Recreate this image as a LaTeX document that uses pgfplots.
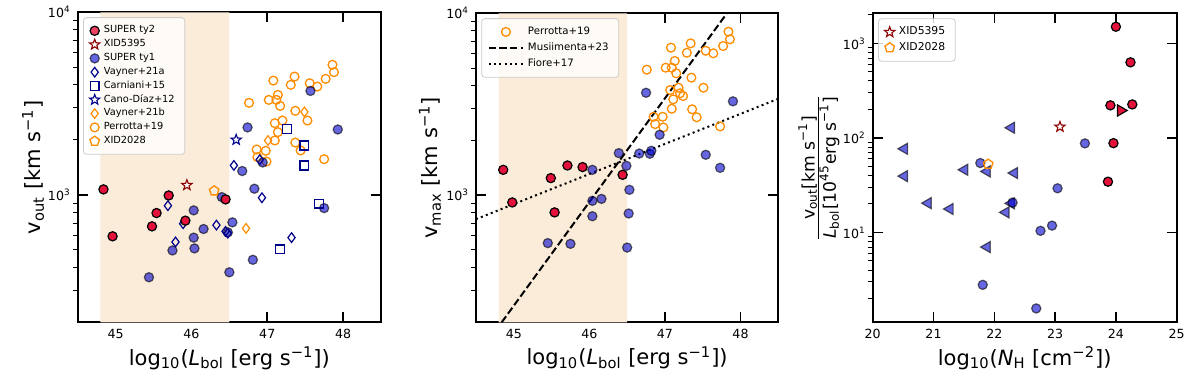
\documentclass[border=0pt]{standalone}
\usepackage{fontspec}
\setmainfont{DejaVu Sans}
\usepackage{pgfplots}
\pgfplotsset{compat=1.18}
\usetikzlibrary{plotmarks}

\definecolor{tytwo}{RGB}{228,18,58}
\definecolor{mblue}{RGB}{0,0,205}
\definecolor{navy}{RGB}{0,0,139}
\definecolor{dorange}{RGB}{255,140,0}
\definecolor{dred}{RGB}{139,0,0}
\definecolor{shade}{RGB}{250,236,217}

% open five-pointed star, like matplotlib's '*'
\pgfdeclareplotmark{ostar}{%
  \pgfpathmoveto{\pgfpointpolar{90}{\pgfplotmarksize}}%
  \pgfpathlineto{\pgfpointpolar{126}{0.42\pgfplotmarksize}}%
  \pgfpathlineto{\pgfpointpolar{162}{\pgfplotmarksize}}%
  \pgfpathlineto{\pgfpointpolar{198}{0.42\pgfplotmarksize}}%
  \pgfpathlineto{\pgfpointpolar{234}{\pgfplotmarksize}}%
  \pgfpathlineto{\pgfpointpolar{270}{0.42\pgfplotmarksize}}%
  \pgfpathlineto{\pgfpointpolar{306}{\pgfplotmarksize}}%
  \pgfpathlineto{\pgfpointpolar{342}{0.42\pgfplotmarksize}}%
  \pgfpathlineto{\pgfpointpolar{18}{\pgfplotmarksize}}%
  \pgfpathlineto{\pgfpointpolar{54}{0.42\pgfplotmarksize}}%
  \pgfpathclose
  \pgfusepathqfillstroke
}

\pgfplotsset{
  panel/.style={
    scale only axis, anchor=south west,
    tick align=inside, tick pos=both,
    major tick length=5pt,
    major tick style={black, line width=0.8pt},
    axis line style={line width=1pt},
    tick label style={font=\fontsize{6.3}{7}\selectfont},
    label style={font=\fontsize{10.5}{12}\selectfont},
    /pgf/number format/assume math mode=true,
    xlabel style={at={(axis description cs:0.5,-0.115)}, anchor=center},
    legend cell align=left,
    legend style={at={(rel axis cs:0.018,0.984)}, anchor=north west,
      font=\fontsize{4.9}{5.9}\selectfont, draw=black!20, rounded corners=1.5pt,
      fill=white, fill opacity=0.8, text opacity=1,
      row sep={6.9pt,between origins}},
  },
  ty2/.style={only marks, mark=*, mark size=2.3pt,
    mark options={fill=tytwo, draw=black, line width=0.6pt}},
  ty1/.style={only marks, mark=*, mark size=2.3pt,
    mark options={fill=mblue, draw=black, line width=0.6pt, opacity=0.6}},
  perr/.style={only marks, mark=o, mark size=2.2pt,
    mark options={draw=dorange, line width=0.65pt}},
  vayA/.style={only marks, mark=diamond, mark size=2.4pt,
    mark options={draw=navy, line width=0.6pt}},
  vayB/.style={only marks, mark=diamond, mark size=2.4pt,
    mark options={draw=dorange, line width=0.6pt}},
  carn/.style={only marks, mark=square, mark size=2.2pt,
    mark options={draw=navy, line width=0.65pt}},
  cano/.style={only marks, mark=ostar, mark size=2.7pt,
    mark options={draw=navy, fill=white, line width=0.55pt}},
  x5395/.style={only marks, mark=ostar, mark size=2.7pt,
    mark options={draw=dred, fill=white, line width=0.55pt}},
  x2028/.style={only marks, mark=pentagon, mark size=2.5pt,
    mark options={draw=dorange, line width=0.65pt}},
}

\begin{document}
\begin{tikzpicture}
\path[use as bounding box] (0,0) rectangle (600pt,190pt);

% ---------------- panel 1: v_out vs L_bol
\begin{axis}[panel, at={(38.85pt,28.85pt)}, width=151.65pt, height=155pt,
  xmin=44.5, xmax=48.5, ymin=200, ymax=10000, ymode=log,
  xtick={45,46,47,48}, ytick={1000,10000},
  yticklabels={10\textsuperscript{3},10\textsuperscript{4}},
  yminorticks=false,
  extra y ticks={300,400,500,600,700,800,900,2000,3000,4000,5000,6000,7000,8000,9000},
  extra y tick labels={},
  extra y tick style={tick align=outside, ytick pos=left, major tick length=2.5pt,
    major tick style={line width=0.5pt}},
  xlabel={log\textsubscript{10}(\textit{L}\textsubscript{bol} [erg s\textsuperscript{−1}])},
  ylabel={v\textsubscript{out} [km s\textsuperscript{−1}]},
  ylabel style={at={(axis description cs:-0.147,0.5)}, anchor=center},
]
\addlegendimage{ty2}\addlegendentry{SUPER ty2}
\addlegendimage{x5395}\addlegendentry{XID5395}
\addlegendimage{ty1}\addlegendentry{SUPER ty1}
\addlegendimage{vayA}\addlegendentry{Vayner+21a}
\addlegendimage{carn}\addlegendentry{Carniani+15}
\addlegendimage{cano}\addlegendentry{Cano-Díaz+12}
\addlegendimage{vayB}\addlegendentry{Vayner+21b}
\addlegendimage{perr}\addlegendentry{Perrotta+19}
\addlegendimage{x2028}\addlegendentry{XID2028}

\addplot[fill=shade, draw=none, forget plot] coordinates {
  (44.8,200) (46.5,200) (46.5,10000) (44.8,10000) (44.8,200)};
\addplot[perr, forget plot] coordinates {
  (46.76,3190) (46.86,1771) (46.87,1607) (46.98,1741) (46.99,1521) (47.02,3311)
  (47.08,4223) (47.10,2467) (47.10,1983) (47.12,3311) (47.14,3527) (47.17,3068)
  (47.14,2203) (47.20,2552) (47.31,4001) (47.36,4443) (47.37,2884) (47.37,1932)
  (47.44,1750) (47.53,2552) (47.56,4083) (47.66,3918) (47.75,1567) (47.77,4318)
  (47.86,5156) (47.88,4697)};
\addplot[vayB, forget plot] coordinates {(46.72,654) (47.01,1983) (47.49,2845)};
\addplot[ty1, forget plot] coordinates {
  (45.44,353) (45.75,495) (46.03,821) (46.03,582) (46.04,508) (46.16,649)
  (46.40,971) (46.48,622) (46.50,376) (46.54,706) (46.67,1349) (46.74,2339)
  (46.81,440) (46.83,1079) (46.94,1503) (47.57,3707) (47.75,845) (47.93,2279)};
\addplot[vayA, forget plot] coordinates {
  (45.69,871) (45.79,551) (45.89,694) (46.33,682) (46.45,630) (46.48,616)
  (46.56,1448) (46.90,1555) (46.93,963) (47.32,582)};
\addplot[carn, forget plot] coordinates {
  (47.26,2287) (47.49,1862) (47.49,1447) (47.68,893) (47.17,502)};
\addplot[cano, forget plot] coordinates {(46.59,2000)};
\addplot[ty2, forget plot] coordinates {
  (44.84,1070) (44.96,592) (45.48,671) (45.54,794) (45.70,991) (45.92,721) (46.45,943)};
\addplot[x5395, forget plot] coordinates {(45.94,1129)};
\addplot[x2028, forget plot] coordinates {(46.30,1051)};
\end{axis}

% ---------------- panel 2: v_max vs L_bol
\begin{axis}[panel, at={(238pt,28.85pt)}, width=151.15pt, height=154.5pt,
  xmin=44.5, xmax=48.5, ymin=200, ymax=10000, ymode=log,
  xtick={45,46,47,48}, ytick={1000,10000},
  yticklabels={10\textsuperscript{3},10\textsuperscript{4}},
  yminorticks=false,
  extra y ticks={300,400,500,600,700,800,900,2000,3000,4000,5000,6000,7000,8000,9000},
  extra y tick labels={},
  extra y tick style={tick align=outside, ytick pos=left, major tick length=2.5pt,
    major tick style={line width=0.5pt}},
  xlabel={log\textsubscript{10}(\textit{L}\textsubscript{bol} [erg s\textsuperscript{−1}])},
  ylabel={v\textsubscript{max} [km s\textsuperscript{−1}]},
  ylabel style={at={(axis description cs:-0.152,0.5)}, anchor=center},
  legend style={font=\fontsize{5.1}{6.1}\selectfont, row sep={8pt,between origins}},
]
\addlegendimage{perr}\addlegendentry{Perrotta+19}
\addlegendimage{black, line width=1pt, dash pattern=on 3.7pt off 1.6pt}\addlegendentry{Musiimenta+23}
\addlegendimage{black, line width=1pt, dash pattern=on 1pt off 1.65pt}\addlegendentry{Fiore+17}

\addplot[fill=shade, draw=none, forget plot] coordinates {
  (44.8,200) (46.5,200) (46.5,10000) (44.8,10000) (44.8,200)};
\addplot[perr, forget plot] coordinates {
  (46.76,4898) (46.85,2698) (46.87,2459) (46.97,2698) (46.98,2357) (47.01,5024)
  (47.08,6473) (47.07,3786) (47.09,2986) (47.09,5024) (47.13,5470) (47.15,4677)
  (47.11,3364) (47.18,3898) (47.20,3631) (47.24,3508) (47.29,6067) (47.34,6834)
  (47.35,4427) (47.36,2966) (47.42,2680) (47.51,3898) (47.54,6223) (47.64,6025)
  (47.73,2388) (47.77,6607) (47.84,7923) (47.86,7194)};
\addplot[ty1, forget plot] coordinates {
  (45.45,545) (45.75,540) (46.04,1378) (46.04,931) (46.04,766) (46.16,954)
  (46.39,1703) (46.49,1450) (46.53,1070) (46.52,793) (46.50,515) (46.66,1694)
  (46.75,3656) (46.80,1690) (46.82,1754) (46.93,2148) (47.54,1667) (47.73,1414)
  (47.90,3281)};
\addplot[ty2, forget plot] coordinates {
  (44.86,1378) (44.98,912) (45.49,1241) (45.54,804) (45.71,1456) (45.91,1427) (46.44,1294)};
\addplot[black, line width=1pt, dash pattern=on 3.7pt off 1.6pt, forget plot]
  coordinates {(44.84,200) (47.82,10000)};
\addplot[black, line width=1pt, dash pattern=on 1pt off 1.65pt, forget plot]
  coordinates {(44.5,738) (48.5,3388)};
\end{axis}

% ---------------- panel 3: v_out/L_bol vs N_H
\begin{axis}[panel, at={(436.35pt,28.85pt)}, width=152pt, height=154.5pt,
  xmin=20, xmax=25, ymin=1.12, ymax=2080, ymode=log,
  xtick={20,21,22,23,24,25}, ytick={10,100,1000},
  yticklabels={10\textsuperscript{1},10\textsuperscript{2},10\textsuperscript{3}},
  yminorticks=false,
  extra y ticks={2,3,4,5,6,7,8,9,20,30,40,50,60,70,80,90,200,300,400,500,600,700,800,900,2000},
  extra y tick labels={},
  extra y tick style={tick align=outside, ytick pos=left, major tick length=2.5pt,
    major tick style={line width=0.5pt}},
  xlabel={log\textsubscript{10}(\textit{N}\textsubscript{H} [cm\textsuperscript{−2}])},
  ylabel={$\frac{\hbox{v\textsubscript{out}[km s\textsuperscript{−1}]}}{\hbox{\textit{L}\textsubscript{bol}[10\textsuperscript{45}erg s\textsuperscript{−1}]}}$},
  ylabel style={at={(axis description cs:-0.177,0.5)}, anchor=center,
    font=\fontsize{8.6}{10}\selectfont},
  legend style={font=\fontsize{5.4}{6.4}\selectfont, row sep={7.8pt,between origins}},
]
\addlegendimage{x5395}\addlegendentry{XID5395}
\addlegendimage{x2028}\addlegendentry{XID2028}

\addplot[only marks, mark=triangle*, mark size=3.2pt,
  mark options={fill=mblue, draw=black, line width=0.6pt, opacity=0.6, rotate=90},
  forget plot] coordinates {
  (20.52,76.7) (20.52,39.4) (20.91,20.4) (21.27,17.7) (21.51,46.0) (21.88,44.2)
  (21.88,7.0) (22.28,128) (22.33,42.5) (22.19,16.3) (22.28,20.3)};
\addplot[ty1, forget plot] coordinates {
  (21.77,54.2) (21.81,2.79) (22.69,1.57) (22.76,10.4) (22.95,11.8) (23.04,29.3)
  (23.49,87.5) (22.30,20.7)};
\addplot[only marks, mark=triangle*, mark size=3.2pt,
  mark options={fill=tytwo, draw=black, line width=0.6pt, rotate=-90},
  forget plot] coordinates {(24.08,195)};
\addplot[ty2, forget plot] coordinates {
  (24.00,1500) (24.24,630) (23.91,221) (24.27,226) (23.96,88) (23.87,34.4)};
\addplot[x5395, forget plot] coordinates {(23.08,131)};
\addplot[x2028, forget plot] coordinates {(21.90,52.8)};
\end{axis}
\end{tikzpicture}
\end{document}
